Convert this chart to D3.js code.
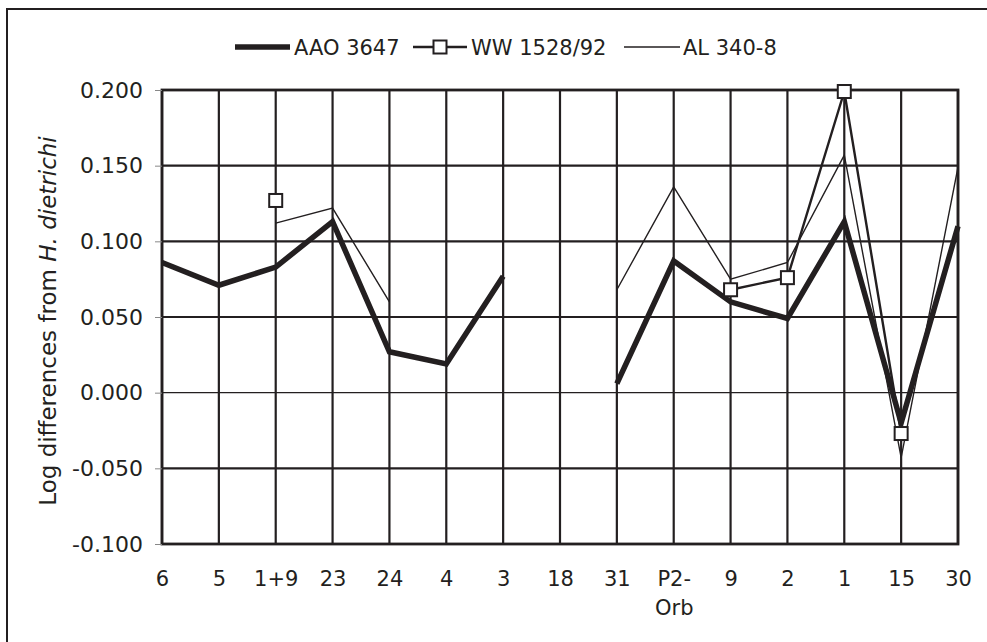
<!DOCTYPE html>
<html>
<head>
<meta charset="utf-8">
<script src="https://cdn.jsdelivr.net/npm/d3@7"></script>
<style>
html,body{margin:0;padding:0;background:#fff;}
svg{display:block;}
text{font-family:"DejaVu Sans",sans-serif;fill:#231f20;}
</style>
</head>
<body>
<svg id="chart" width="987" height="642"></svg>
<script>
const categories = ["6","5","1+9","23","24","4","3","18","31","P2-\nOrb","9","2","1","15","30"];
const aao3647 = [0.086,0.071,0.083,0.113,0.027,0.019,0.077,null,0.006,0.087,0.060,0.049,0.113,-0.020,0.110];
const ww1528 = [null,null,0.127,null,null,null,null,null,null,null,0.068,0.076,0.199,-0.027,null];
const al3408 = [null,null,0.112,0.122,0.060,null,null,null,0.068,0.136,0.075,0.086,0.157,-0.043,0.149];
const yTicks = [0.200,0.150,0.100,0.050,0.000,-0.050,-0.100];
const seriesNames = ["AAO 3647","WW 1528/92","AL 340-8"];

const ink = "#231f20";
const FONT = "'DejaVu Sans',sans-serif";
const svg = d3.select("#chart");
const L = 162, R = 958, T = 90, B = 544;

// outer frame (top and left visible)
svg.append("line").attr("x1",7).attr("x2",987).attr("y1",9).attr("y2",9).attr("stroke",ink).attr("stroke-width",2);
svg.append("line").attr("x1",7).attr("x2",7).attr("y1",8).attr("y2",642).attr("stroke",ink).attr("stroke-width",2);

const x = d3.scalePoint().domain(categories).range([L, R]);
const y = d3.scaleLinear().domain([-0.1, 0.2]).range([B, T]);

// horizontal gridlines
svg.append("g").selectAll("line").data(yTicks).join("line")
  .attr("x1", L).attr("x2", R)
  .attr("y1", d => y(d)).attr("y2", d => y(d))
  .attr("stroke", ink)
  .attr("stroke-width", d => d === 0 ? 1.3 : 2.2);

// vertical gridlines
svg.append("g").selectAll("line").data(categories).join("line")
  .attr("x1", d => x(d)).attr("x2", d => x(d))
  .attr("y1", T).attr("y2", B)
  .attr("stroke", ink).attr("stroke-width", 2.2);

// plot frame
svg.append("rect").attr("x", L).attr("y", T).attr("width", R - L).attr("height", B - T)
  .attr("fill", "none").attr("stroke", ink).attr("stroke-width", 2.8);

// y axis
const fmt = d3.format(".3f");
const yAxis = d3.axisLeft(y).tickValues(yTicks).tickFormat(d => fmt(d).replace("\u2212", "-")).tickSize(7).tickPadding(12);
const gy = svg.append("g").attr("transform", `translate(${L},0)`).call(yAxis);
gy.select(".domain").remove();
gy.selectAll(".tick line").attr("stroke", "#888").attr("stroke-width", 1);
gy.selectAll(".tick text").style("font-size", "22px").attr("fill", ink).style("font-family", FONT);

// x axis labels
const xAxis = d3.axisBottom(x).tickSize(0).tickFormat("");
const gx = svg.append("g").attr("transform", `translate(0,${B})`).call(xAxis);
gx.select(".domain").remove();
gx.selectAll(".tick").each(function(d) {
  const lines = d.split("\n");
  const t = d3.select(this).append("text")
    .attr("text-anchor", "middle")
    .style("font-size", "21px")
    .style("font-family", FONT)
    .attr("fill", ink);
  lines.forEach((s, i) => {
    t.append("tspan").attr("x", 0).attr("y", 42 + i * 29).text(s);
  });
});

// y title
const yt = svg.append("text")
  .attr("transform", `translate(56,${(T + B) / 2 + 4}) rotate(-90)`)
  .attr("text-anchor", "middle")
  .style("font-size", "23px");
yt.append("tspan").text("Log differences from ");
yt.append("tspan").style("font-style", "italic").text("H. dietrichi");

// lines
const lineGen = d3.line()
  .defined(d => d.v !== null)
  .x(d => x(d.c)).y(d => y(d.v));
const toPts = arr => arr.map((v, i) => ({c: categories[i], v}));

svg.append("path").datum(toPts(al3408)).attr("d", lineGen)
  .attr("fill", "none").attr("stroke", ink).attr("stroke-width", 1.4).attr("stroke-linejoin", "miter");
svg.append("path").datum(toPts(aao3647)).attr("d", lineGen)
  .attr("fill", "none").attr("stroke", ink).attr("stroke-width", 5.5).attr("stroke-linejoin", "miter");
svg.append("path").datum(toPts(ww1528)).attr("d", lineGen)
  .attr("fill", "none").attr("stroke", ink).attr("stroke-width", 2.4);
const sq = 13;
svg.append("g").selectAll("rect").data(toPts(ww1528).filter(d => d.v !== null)).join("rect")
  .attr("x", d => x(d.c) - sq / 2).attr("y", d => y(d.v) - sq / 2)
  .attr("width", sq).attr("height", sq)
  .attr("fill", "#fff").attr("stroke", ink).attr("stroke-width", 2);

// legend
const lg = svg.append("g");
const ly = 47;
lg.append("line").attr("x1", 235).attr("x2", 290).attr("y1", ly).attr("y2", ly).attr("stroke", ink).attr("stroke-width", 5.5);
lg.append("text").attr("x", 294).attr("y", ly + 8).style("font-size", "21px").text(seriesNames[0]);
lg.append("line").attr("x1", 413).attr("x2", 467).attr("y1", ly).attr("y2", ly).attr("stroke", ink).attr("stroke-width", 2.4);
lg.append("rect").attr("x", 440 - sq / 2).attr("y", ly - sq / 2).attr("width", sq).attr("height", sq)
  .attr("fill", "#fff").attr("stroke", ink).attr("stroke-width", 2);
lg.append("text").attr("x", 471).attr("y", ly + 8).style("font-size", "21px").text(seriesNames[1]);
lg.append("line").attr("x1", 624).attr("x2", 680).attr("y1", ly).attr("y2", ly).attr("stroke", ink).attr("stroke-width", 1.4);
lg.append("text").attr("x", 683).attr("y", ly + 8).style("font-size", "21px").text(seriesNames[2]);
</script>
</body>
</html>
